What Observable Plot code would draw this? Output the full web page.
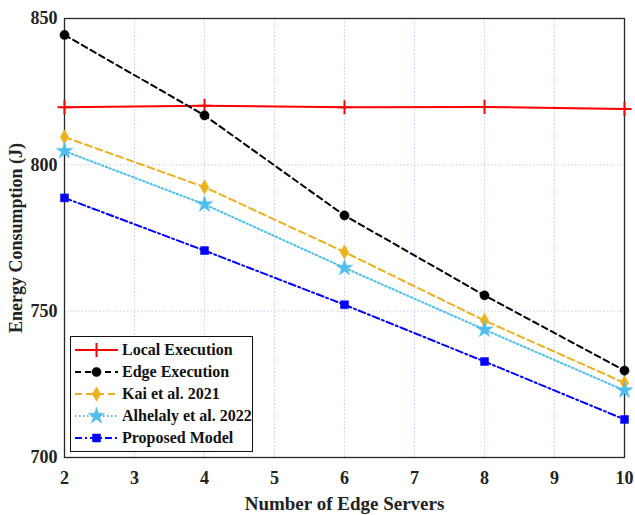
<!DOCTYPE html>
<html><head><meta charset="utf-8">
<script src="https://cdn.jsdelivr.net/npm/d3@7"></script>
<script src="https://cdn.jsdelivr.net/npm/@observablehq/plot@0.6"></script>
<style>
body{margin:0;background:#fff}
#wrap{position:relative;width:635px;height:515px}
#legend{position:absolute;left:70px;top:336px;width:181px;border:1.5px solid #111;background:#fff;padding:2px 0;font-family:"Liberation Serif",serif;font-weight:bold;font-size:16px;color:#111;white-space:nowrap}
#legend .row{display:flex;align-items:center;height:22px}
#legend svg{flex:none;margin-right:1px}
</style>
</head><body><div id="wrap"></div>
<script>
const servers = [2, 4, 6, 8, 10];
const localExec = [819.7, 820.2, 819.7, 819.8, 819.1];
const edgeExec = [844.4, 816.9, 782.7, 755.4, 729.7];
const kai2021 = [809.5, 792.4, 770.2, 746.8, 725.5];
const alhelaly2022 = [804.7, 786.5, 764.8, 743.7, 722.9];
const proposedModel = [788.7, 770.7, 752.2, 732.8, 713.0];
const seriesNames = ["Local Execution", "Edge Execution", "Kai et al. 2021", "Alhelaly et al. 2022", "Proposed Model"];
const xTicks = [2, 3, 4, 5, 6, 7, 8, 9, 10];
const yTicks = [700, 750, 800, 850];
const xLabel = "Number of Edge Servers";
const yLabel = "Energy Consumption (J)";

const styles = [
  {color: "#ff0000", dash: null, symbol: "plus", r: 4.6, filled: false},
  {color: "#000000", dash: "6,4", symbol: "circle", r: 4.6, filled: true},
  {color: "#edb120", dash: "7,4", symbol: "diamond", r: 4.4, filled: true},
  {color: "#4dbeee", dash: "1.5,2.5", symbol: "star", r: 5.2, filled: true},
  {color: "#0000ff", dash: "7,3,2,3", symbol: "square", r: 4.5, filled: true}
];
const allValues = [localExec, edgeExec, kai2021, alhelaly2022, proposedModel];
const series = seriesNames.map((name, i) => ({
  name, ...styles[i],
  data: servers.map((x, j) => ({x, y: allValues[i][j]}))
}));

const marks = [
  Plot.gridX(xTicks.slice(1, -1), {stroke: "#c9c9ff", strokeOpacity: 1, strokeDasharray: "1.5,2"}),
  Plot.gridY([750, 800], {stroke: "#c9c9ff", strokeOpacity: 1, strokeDasharray: "1.5,2"}),
  Plot.axisX(xTicks, {tickSize: 0, tickPadding: 14, fontSize: 18, label: null}),
  Plot.axisX({label: xLabel, ticks: [], tickSize: 0, fontSize: 19, labelAnchor: "center", labelOffset: 52, labelArrow: "none"}),
  Plot.axisY(yTicks, {tickSize: 0, tickPadding: 7, fontSize: 18, label: null}),
  Plot.axisY({label: yLabel, ticks: [], tickSize: 0, fontSize: 18, labelAnchor: "center", labelOffset: 55, labelArrow: "none"}),
  Plot.frame({stroke: "#262626", strokeWidth: 1.3})
];
for (const s of series) {
  marks.push(Plot.line(s.data, {x: "x", y: "y", stroke: s.color, strokeWidth: 2, strokeDasharray: s.dash}));
  marks.push(Plot.dot(s.data, {x: "x", y: "y", symbol: s.symbol, r: s.r,
    fill: s.filled ? s.color : "none", stroke: s.color, strokeWidth: s.filled ? 0.5 : 2}));
}

const chart = Plot.plot({
  width: 635, height: 515,
  marginTop: 18, marginBottom: 58, marginLeft: 64, marginRight: 11,
  style: {fontFamily: "Liberation Serif, serif", fontWeight: "bold", fontSize: "18px", color: "#222", background: "#fff"},
  x: {domain: [2, 10]},
  y: {domain: [700, 850]},
  marks
});
const wrap = document.getElementById("wrap");
wrap.appendChild(chart);

// legend
const legend = document.createElement("div");
legend.id = "legend";
const symMap = {plus: d3.symbolPlus, circle: d3.symbolCircle, diamond: d3.symbolDiamond, star: d3.symbolStar, square: d3.symbolSquare};
for (const s of series) {
  const row = document.createElement("div");
  row.className = "row";
  const svg = d3.create("svg").attr("width", 50).attr("height", 22);
  svg.append("line").attr("x1", 4).attr("x2", 47).attr("y1", 11).attr("y2", 11)
    .attr("stroke", s.color).attr("stroke-width", 2).attr("stroke-dasharray", s.dash);
  svg.append("path").attr("transform", "translate(25.5,11)")
    .attr("d", d3.symbol(symMap[s.symbol], Math.PI * s.r * s.r)())
    .attr("fill", s.filled ? s.color : "none").attr("stroke", s.color).attr("stroke-width", s.filled ? 0.5 : 2);
  row.appendChild(svg.node());
  const t = document.createElement("span");
  t.textContent = s.name;
  row.appendChild(t);
  legend.appendChild(row);
}
wrap.appendChild(legend);
</script>
</body></html>
